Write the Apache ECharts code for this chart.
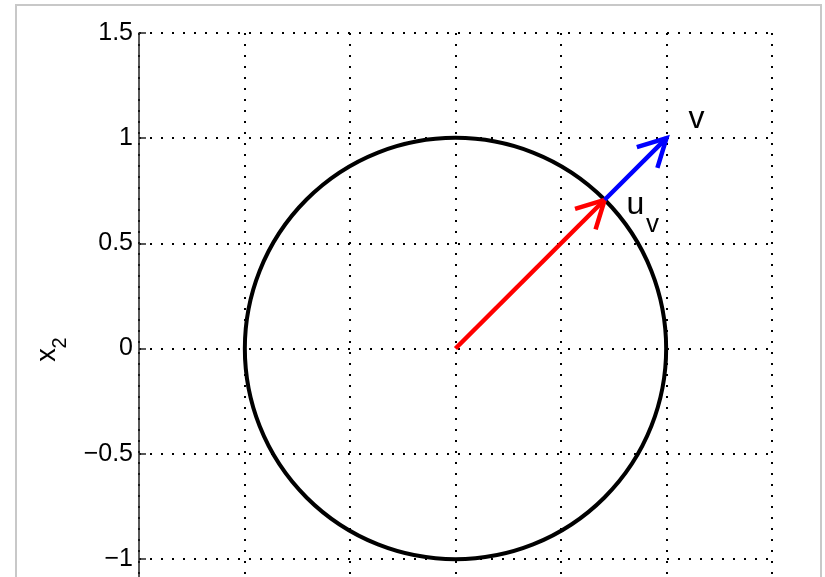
<!DOCTYPE html>
<html>
<head>
<meta charset="utf-8">
<script src="https://cdn.jsdelivr.net/npm/echarts@6/dist/echarts.min.js"></script>
<style>
  html, body { margin: 0; padding: 0; background: #fff; overflow: hidden; }
  #main { width: 825px; height: 700px; }
</style>
</head>
<body>
<div id="main"></div>
<script>
// axis ticks
var yTicks = [-1.5, -1, -0.5, 0, 0.5, 1, 1.5];
var xTicks = [-1.5, -1, -0.5, 0, 0.5, 1, 1.5];

// unit circle: centre x, centre y, radius
var circle = [[0, 0, 1]];

// arrows: start point, end point
var arrowStart = [[0, 0], [0.7071, 0.7071]];
var arrowEnd = [[0.7071, 0.7071], [1, 1]];
var arrowColors = ['#ff0000', '#0000ff'];

// text annotations in data coordinates
var labelText = ['v', 'u', 'v'];
var labelPos = [[1.142, 1.089], [0.853, 0.683], [0.934, 0.590]];
var labelSize = [32, 32, 26];

var arrowData = arrowStart.map(function (s, i) {
    return [s[0], s[1], arrowEnd[i][0], arrowEnd[i][1], i];
});
var labelData = labelPos.map(function (p, i) {
    return [p[0], p[1], i];
});

var dotted = { color: '#000', width: 2, type: [2, 9] };

// the page only shows the top 577px, the bottom of the plot is cut off
var myChart = echarts.init(document.getElementById('main'));
var option = {
    animation: false,
    backgroundColor: '#fff',
    grid: { left: 139, top: 33, width: 633, height: 631, containLabel: false },
    xAxis: {
        type: 'value',
        min: xTicks[0],
        max: xTicks[xTicks.length - 1],
        interval: 0.5,
        axisLine: { show: false },
        axisTick: { show: false },
        axisLabel: { show: false },
        splitLine: { show: true, lineStyle: dotted }
    },
    yAxis: {
        type: 'value',
        min: yTicks[0],
        max: yTicks[yTicks.length - 1],
        interval: 0.5,
        axisLine: { show: true, onZero: false, lineStyle: { color: '#222', width: 1.5 } },
        axisTick: { show: true, inside: true, length: 7, lineStyle: { color: '#222', width: 1.5 } },
        axisLabel: {
            margin: 6,
            color: '#000',
            fontFamily: 'Liberation Sans, Arial, sans-serif',
            fontSize: 25,
            formatter: function (v) {
                return v < 0 ? '\u2212' + (-v) : String(v);
            }
        },
        splitLine: { show: true, lineStyle: dotted }
    },
    graphic: [
        {
            type: 'rect',
            shape: { x: 16, y: 5, width: 805, height: 680 },
            style: { fill: 'none', stroke: '#c8c8c8', lineWidth: 2 },
            z: 100
        },
        {
            type: 'text',
            x: 48, y: 355,
            rotation: Math.PI / 2,
            style: {
                text: 'x', fill: '#000',
                font: '27px "Liberation Sans", Arial, sans-serif',
                textAlign: 'center', textVerticalAlign: 'middle'
            }
        },
        {
            type: 'text',
            x: 60, y: 343,
            rotation: Math.PI / 2,
            style: {
                text: '2', fill: '#000',
                font: '20px "Liberation Sans", Arial, sans-serif',
                textAlign: 'center', textVerticalAlign: 'middle'
            }
        }
    ],
    series: [
        {
            type: 'custom',
            name: 'circle',
            data: circle,
            clip: false,
            z: 2,
            renderItem: function (params, api) {
                var c = api.coord([api.value(0), api.value(1)]);
                var sz = api.size([api.value(2), api.value(2)]);
                return {
                    type: 'circle',
                    shape: { cx: c[0], cy: c[1], r: (sz[0] + sz[1]) / 2 },
                    style: { fill: 'none', stroke: '#000', lineWidth: 4 }
                };
            }
        },
        {
            type: 'custom',
            name: 'arrows',
            data: arrowData,
            clip: false,
            z: 3,
            renderItem: function (params, api) {
                var p0 = api.coord([api.value(0), api.value(1)]);
                var p1 = api.coord([api.value(2), api.value(3)]);
                var color = arrowColors[api.value(4)];
                var ang = Math.atan2(p1[1] - p0[1], p1[0] - p0[0]);
                var headLen = 31, half = 28 * Math.PI / 180;
                var a1 = ang + Math.PI - half, a2 = ang + Math.PI + half;
                var h1 = [p1[0] + headLen * Math.cos(a1), p1[1] + headLen * Math.sin(a1)];
                var h2 = [p1[0] + headLen * Math.cos(a2), p1[1] + headLen * Math.sin(a2)];
                var st = { stroke: color, lineWidth: 4.5, fill: 'none', lineCap: 'butt', lineJoin: 'miter' };
                return {
                    type: 'group',
                    children: [
                        { type: 'line', shape: { x1: p0[0], y1: p0[1], x2: p1[0], y2: p1[1] }, style: st },
                        { type: 'polyline', shape: { points: [h1, p1, h2] }, style: st }
                    ]
                };
            }
        },
        {
            type: 'custom',
            name: 'labels',
            data: labelData,
            clip: false,
            z: 4,
            renderItem: function (params, api) {
                var p = api.coord([api.value(0), api.value(1)]);
                var i = api.value(2);
                return {
                    type: 'text',
                    x: p[0], y: p[1],
                    style: {
                        text: labelText[i],
                        fill: '#000',
                        font: labelSize[i] + 'px "Liberation Sans", Arial, sans-serif',
                        textAlign: 'center',
                        textVerticalAlign: 'middle'
                    }
                };
            }
        }
    ]
};
myChart.setOption(option);
</script>
</body>
</html>
